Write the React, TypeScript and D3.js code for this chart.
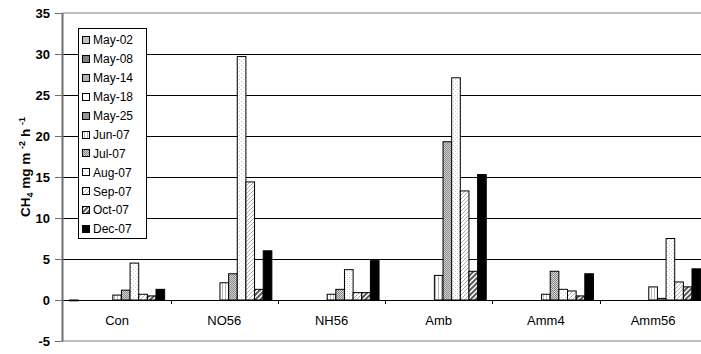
import React from 'react';
import * as d3 from 'd3';

const categories = ['Con', 'NO56', 'NH56', 'Amb', 'Amm4', 'Amm56'];
const seriesNames = ['May-02', 'May-08', 'May-14', 'May-18', 'May-25', 'Jun-07', 'Jul-07', 'Aug-07', 'Sep-07', 'Oct-07', 'Dec-07'];

// one array per sampling date, values per treatment (null = no bar)
const may02 = [-0.1, null, null, null, null, null];
const may08 = [null, null, null, null, null, null];
const may14 = [null, null, null, null, null, null];
const may18 = [null, null, null, null, null, null];
const may25 = [null, null, null, 0, null, null];
const jun07 = [0.6, 2.1, 0.7, 3.0, 0.7, 1.6];
const jul07 = [1.2, 3.2, 1.3, 19.3, 3.5, 0.2];
const aug07 = [4.5, 29.7, 3.7, 27.1, 1.3, 7.5];
const sep07 = [0.7, 14.4, 0.9, 13.3, 1.1, 2.2];
const oct07 = [0.5, 1.3, 0.9, 3.5, 0.5, 1.6];
const dec07 = [1.3, 6.0, 4.8, 15.3, 3.2, 3.8];

const yTicks = [-5, 0, 5, 10, 15, 20, 25, 30, 35];

const seriesValues = [may02, may08, may14, may18, may25, jun07, jul07, aug07, sep07, oct07, dec07];
const fills = [
  '#c0c0c0', '#808080', '#b4b4b4', '#ffffff', '#969696',
  'url(#pJun)', 'url(#pJul)', 'url(#pAug)', 'url(#pSep)', 'url(#pOct)', '#000000',
];

const W = 701;
const H = 354;
const font = 'Arial, "Liberation Sans", sans-serif';

export default function App() {
  const x = d3.scaleBand().domain(categories).range([63.5, 706.7]);
  const xs = d3.scaleBand().domain(seriesNames).range([0, x.bandwidth()]).paddingOuter(0.7);
  const y = d3.scaleLinear().domain([-5, 35]).range([341, 13]);
  const y0 = y(0);

  return (
    <svg width={W} height={H} style={{position: 'absolute', left: 0, top: 0, background: '#fff'}}
         fontFamily={font}>
      <defs>
        <pattern id="pJun" width="3" height="3" patternUnits="userSpaceOnUse">
          <rect width="3" height="3" fill="#fff"/>
          <rect x="0" width="1" height="3" fill="#b8b8b8"/>
        </pattern>
        <pattern id="pJul" width="2" height="2" patternUnits="userSpaceOnUse">
          <rect width="2" height="2" fill="#d0d0d0"/>
          <rect width="1" height="1" fill="#8c8c8c"/>
          <rect x="1" y="1" width="1" height="1" fill="#8c8c8c"/>
        </pattern>
        <pattern id="pAug" width="4" height="4" patternUnits="userSpaceOnUse">
          <rect width="4" height="4" fill="#fff"/>
          <rect x="1" y="1" width="1" height="1" fill="#c0c0c0"/>
          <rect x="3" y="3" width="1" height="1" fill="#d0d0d0"/>
        </pattern>
        <pattern id="pSep" width="4" height="4" patternUnits="userSpaceOnUse">
          <rect width="4" height="4" fill="#fff"/>
          <path d="M-1,1 L1,-1 M0,4 L4,0 M3,5 L5,3" stroke="#b0b0b0" strokeWidth="1"/>
        </pattern>
        <pattern id="pOct" width="5" height="5" patternUnits="userSpaceOnUse">
          <rect width="5" height="5" fill="#fff"/>
          <path d="M-1,1 L1,-1 M0,5 L5,0 M4,6 L6,4" stroke="#5a5a5a" strokeWidth="2"/>
        </pattern>
      </defs>

      {/* plot area border + gridlines */}
      <line x1={63} x2={W} y1={y(35)} y2={y(35)} stroke="#808080" strokeWidth={1}/>
      <line x1={63} x2={W} y1={y(-5)} y2={y(-5)} stroke="#808080" strokeWidth={1}/>
      {yTicks.filter(t => t > 0 && t < 35).map(t => (
        <line key={t} x1={63} x2={W} y1={Math.round(y(t)) + 0.5} y2={Math.round(y(t)) + 0.5} stroke="#000"/>
      ))}

      {/* bars */}
      {seriesValues.map((vals, si) => (
        <g key={seriesNames[si]}>
          {vals.map((v, ci) => {
            if (v === null) return null;
            const bx = (x(categories[ci]) ?? 0) + (xs(seriesNames[si]) ?? 0);
            const top = y(Math.max(0, v));
            const bot = y(Math.min(0, v));
            return (
              <rect key={ci} x={bx} y={top} width={xs.bandwidth()} height={Math.max(0, bot - top)}
                    fill={fills[si]} stroke="#000" strokeWidth={1}/>
            );
          })}
        </g>
      ))}

      {/* x axis at zero */}
      <line x1={63} x2={W} y1={Math.round(y0) + 0.5} y2={Math.round(y0) + 0.5} stroke="#000"/>
      {categories.slice(1).map(c => (
        <line key={c} x1={Math.round(x(c) ?? 0) + 0.5} x2={Math.round(x(c) ?? 0) + 0.5}
              y1={y0} y2={y0 + 4} stroke="#000"/>
      ))}
      {categories.map(c => (
        <text key={c} x={(x(c) ?? 0) + x.bandwidth() / 2} y={325} textAnchor="middle" fontSize={13}>{c}</text>
      ))}

      {/* y axis */}
      <line x1={62.5} x2={62.5} y1={y(35)} y2={y(-5)} stroke="#707070" strokeWidth={2}/>
      {yTicks.map(t => (
        <g key={t}>
          <line x1={55} x2={63} y1={Math.round(y(t)) + 0.5} y2={Math.round(y(t)) + 0.5} stroke="#707070"/>
          <text x={50} y={y(t)} dy="0.35em" textAnchor="end" fontSize={13} fontWeight="bold">{t}</text>
        </g>
      ))}
      <text transform={`translate(30,167) rotate(-90)`} textAnchor="middle" fontSize={13.5} fontWeight="bold">
        CH<tspan fontSize={9} dy={3}>4</tspan>
        <tspan dy={-3}> mg m </tspan>
        <tspan fontSize={9} dy={-5}>-2</tspan>
        <tspan dy={5}> h </tspan>
        <tspan fontSize={9} dy={-5}>-1</tspan>
      </text>

      {/* legend */}
      <rect x={78.5} y={28.5} width={68} height={210} fill="#fff" stroke="#000"/>
      {seriesNames.map((s, i) => {
        const cy = 40 + i * 18.9;
        return (
          <g key={s}>
            <rect x={82.5} y={Math.round(cy) - 3.5} width={7} height={7} fill={fills[i]} stroke="#000"/>
            <text x={93} y={cy} dy="0.36em" fontSize={12}>{s}</text>
          </g>
        );
      })}
    </svg>
  );
}
